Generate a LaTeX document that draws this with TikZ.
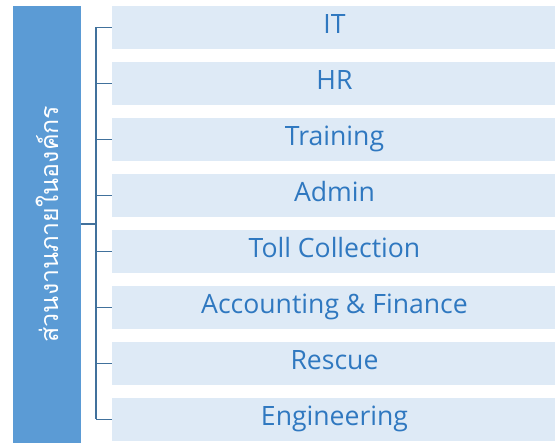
\documentclass[tikz,border=0pt]{standalone}
\usepackage{fontspec}
\setmainfont{Open Sans}
\newfontfamily\thaifont[Script=Thai]{Loma}
\definecolor{barblue}{HTML}{5B9BD5}
\definecolor{boxfill}{HTML}{DEEAF6}
\definecolor{labelblue}{HTML}{2F78C0}
\definecolor{linkblue}{HTML}{41719C}
\begin{document}
\begin{tikzpicture}[x=1pt,y=-1pt,
  unitbox/.style={fill=boxfill, draw=none, minimum width=443pt, minimum height=43pt,
    inner sep=0pt, anchor=west},
  unitlabel/.style={anchor=base, inner sep=0pt, text=labelblue,
    font=\fontsize{26.6}{30}\selectfont},
  link/.style={draw=linkblue, line width=1.4pt}]
  \useasboundingbox (0,0) rectangle (555,443);
  % left heading bar with rotated Thai title
  \fill[barblue] (13,6) rectangle (81,443);
  \node[rotate=90, text=white, font=\thaifont\fontsize{25}{28}\selectfont, inner sep=0pt]
    (title) at (47,224) {ส่วนงานภายในองค์กร};
  \coordinate (barright) at (81,224);
  \coordinate (spine) at (96,224);
  % department boxes and their labels
  \foreach \name/\txt [count=\i from 0] in {it/IT, hr/HR, training/Training, admin/Admin,
      toll/Toll Collection, acc/Accounting \& Finance, rescue/Rescue, eng/Engineering} {
    \node[unitbox] (\name) at (112,{27.5+56*\i}) {};
    \node[unitlabel] (\name-text) at (334.5,{34+56*\i}) {\txt};
  }
  % bracket linking the bar to each box
  \coordinate (top) at (96,27.5);
  \coordinate (bot) at (96,{27.5+56*7});
  \draw[link] (top) -- (bot);
  \draw[link] (barright) -- (spine);
  \foreach \name in {it,hr,training,admin,toll,acc,rescue,eng} {
    \draw[link] (96,0 |- \name.west) -- (\name.west);
  }
\end{tikzpicture}
\end{document}
